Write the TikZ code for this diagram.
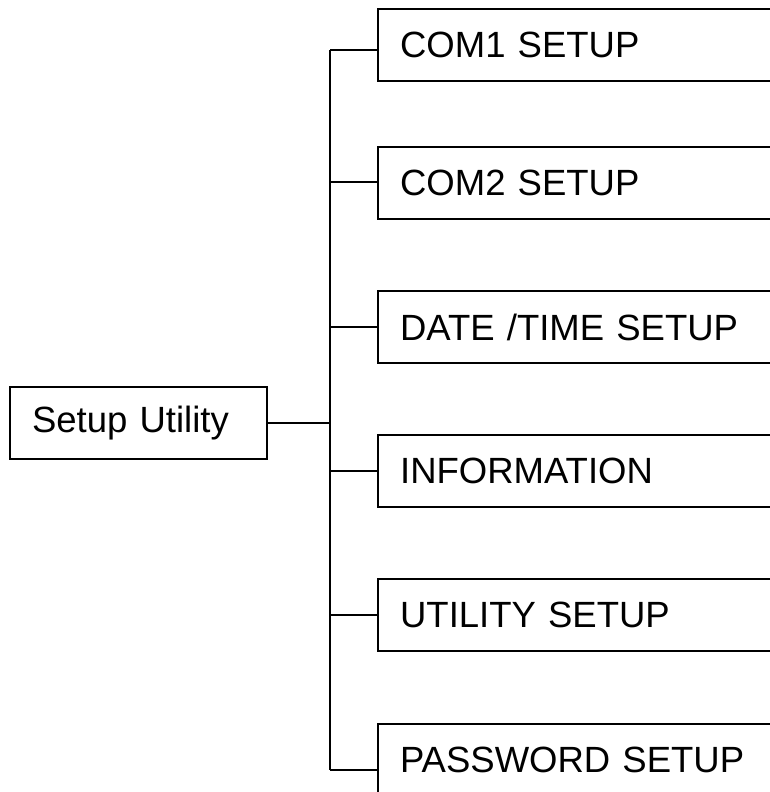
\documentclass[tikz,border=0pt]{standalone}
\usepackage{fontspec}
\setmainfont{Liberation Sans}
\usetikzlibrary{positioning}
\newcommand{\menuitem}[3]{\node[item] (#1) at ( 377 , #2 ) {#3};}
\newcommand{\branch}[2]{\coordinate (#1) at ( 330 , #2 );}

\begin{document}
\begin{tikzpicture}[x=1pt,y=-1pt,
  box/.style={draw,line width=2.2pt,minimum height=72pt,inner xsep=22pt,
    anchor=north west,align=left,font=\fontsize{36.5}{43}\selectfont},
  item/.style={box,minimum width=430pt,text width=386pt},
  wire/.style={line width=1.5pt}]
\useasboundingbox (0,0) rectangle (770,792);
\clip (0,0) rectangle (770,792);
% root box
\node[box,minimum width=257pt,text width=213pt] (root) at ( 9 , 386 ) {Setup Utility};
% menu boxes
\menuitem{com1}{8}{COM1 SETUP}
\menuitem{com2}{146}{COM2 SETUP}
\menuitem{datetime}{290}{DATE /TIME SETUP}
\menuitem{info}{434}{INFORMATION}
\menuitem{utility}{578}{UTILITY SETUP}
\menuitem{password}{723}{PASSWORD SETUP}
% branch points on the trunk
\branch{b1}{50}
\branch{b2}{182}
\branch{b3}{327}
\branch{b4}{471}
\branch{b5}{615}
\branch{b6}{770}
% connectors
\draw[wire] (b1) -- (b6);
\draw[wire] (root.east) -- (root.east -| b1);
\draw[wire] (b1) -- (b1 -| com1.west);
\draw[wire] (b2) -- (b2 -| com2.west);
\draw[wire] (b3) -- (b3 -| datetime.west);
\draw[wire] (b4) -- (b4 -| info.west);
\draw[wire] (b5) -- (b5 -| utility.west);
\draw[wire] (b6) -- (b6 -| password.west);
\end{tikzpicture}
\end{document}
